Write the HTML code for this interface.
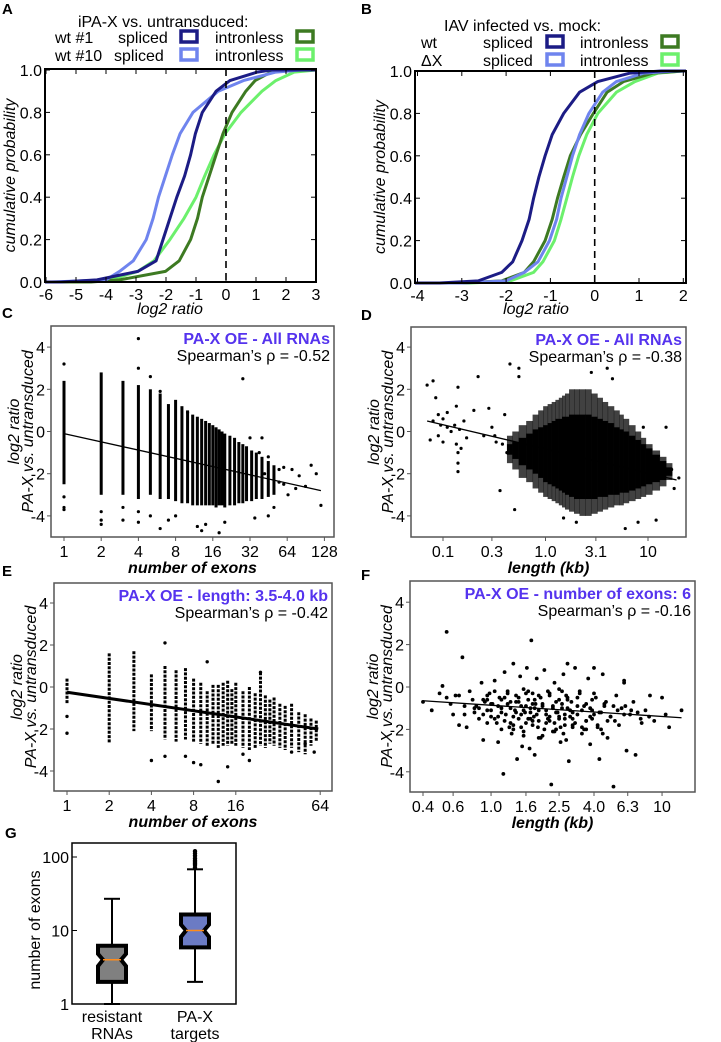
<!DOCTYPE html>
<html><head><meta charset="utf-8">
<style>
html,body{margin:0;padding:0;background:#fff;}
svg{display:block;font-family:"Liberation Sans",Arial,sans-serif;}
</style></head>
<body>
<svg id="fig" width="721" height="1042" viewBox="0 0 721 1042" xmlns="http://www.w3.org/2000/svg"></svg>
<script>
// ---------- DATA ----------
const cdfProbs = [0,0.01,0.05,0.1,0.2,0.3,0.4,0.5,0.6,0.7,0.8,0.9,0.95,0.99,1];
const aWt1Spliced   = [-5.5,-4.3,-2.94,-2.33,-2.1,-1.87,-1.64,-1.38,-1.18,-1.02,-0.79,-0.33,0.13,1.04,1.5];
const aWt10Spliced  = [-5.8,-4.0,-3.55,-3.09,-2.66,-2.43,-2.25,-2.02,-1.79,-1.53,-1.1,-0.26,0.58,1.66,2.5];
const aWt1Intronless= [-4.5,-3.55,-2.02,-1.56,-1.18,-0.95,-0.79,-0.56,-0.33,-0.1,0.2,0.66,0.97,1.5,2.0];
const aWt10Intronless=[-4.8,-3.86,-2.94,-2.4,-1.87,-1.4,-1.0,-0.71,-0.4,-0.03,0.5,1.2,1.66,2.27,3.0];
const bWtSpliced    = [-3.5,-2.63,-2.1,-1.85,-1.64,-1.48,-1.38,-1.26,-1.12,-0.96,-0.7,-0.34,0.07,0.8,1.5];
const bDxSpliced    = [-3.0,-2.0,-1.59,-1.28,-1.02,-0.86,-0.76,-0.63,-0.5,-0.34,-0.13,0.18,0.49,1.11,1.8];
const bWtIntronless = [-3.0,-2.1,-1.59,-1.38,-1.12,-0.96,-0.84,-0.7,-0.55,-0.32,-0.03,0.28,0.65,1.32,2.0];
const bDxIntronless = [-2.8,-1.9,-1.38,-1.17,-0.91,-0.76,-0.63,-0.5,-0.36,-0.18,0.07,0.49,0.91,1.43,2.0];
const aXTicks = [-6,-5,-4,-3,-2,-1,0,1,2,3];
const bXTicks = [-4,-3,-2,-1,0,1,2];
const probTicks = [0,0.2,0.4,0.6,0.8,1.0];
const probTickLabels = ["0.0","0.2","0.4","0.6","0.8","1.0"];
const cN   = [1,2,3,4,5,6,7,8,9,10,11,12,13,14,15,16,17,18,19,20,22,24,26,28,30,33,36,40,45,50];
const cTop = [2.4,2.8,2.4,2.2,2.0,1.8,1.3,1.5,1.2,1.0,0.8,0.7,0.6,0.5,0.4,0.3,0.2,0.1,0.0,-0.1,-0.2,-0.3,-0.5,-0.6,-0.7,-0.9,-1.0,-1.2,-1.4,-1.6];
const cBot = [-2.5,-3.0,-3.0,-3.2,-3.0,-3.2,-3.2,-3.3,-3.4,-3.4,-3.5,-3.5,-3.5,-3.5,-3.5,-3.5,-3.6,-3.5,-3.5,-3.6,-3.5,-3.5,-3.4,-3.4,-3.3,-3.3,-3.2,-3.2,-3.1,-3.0];
const cOutN = [1,1,1,1,2,2,2,3,3,4,4,4,4,5,5,6,6,7,8,10,12,13,14,18,20,28,32,40,45,55,60,65,70,80,90,100,110,120,35,45,50,38,42,55,60,75];
const cOutV = [3.2,-3.1,-3.6,-3.7,-3.8,-4.2,-4.4,-3.6,-4.2,4.4,3.0,-3.8,-4.3,2.6,-4.0,1.9,-4.6,-4.2,-4.0,0.9,-4.5,-4.7,-4.4,-4.8,-4.3,2.5,-0.3,-0.3,-1.2,-1.8,-2.5,-3.0,-1.8,-2.1,-2.6,-1.6,-2.0,-3.5,-4.1,-4.0,-3.6,-1.0,-2.0,-2.4,-1.7,-2.7];
const cFit = [[1,-0.1],[120,-2.8]];
const cXTicks = [1,2,4,8,16,32,64,128];
const yTicks = [-4,-2,0,2,4];
const dLen = [0.45,0.5,0.6,0.7,0.8,0.9,1.0,1.1,1.2,1.3,1.4,1.5,1.6,1.8,2.0,2.3,2.6,3.0,3.4,3.8,4.3,5,5.5,6,7,8,9,10,12,14,16];
const dTop = [-0.2,0,0.3,0.5,0.8,1.0,1.2,1.3,1.4,1.5,1.6,1.7,1.8,2.0,2.0,2.0,2.0,1.8,1.6,1.4,1.2,1.0,0.8,0.6,0.3,0.0,-0.3,-0.6,-0.9,-1.2,-1.5];
const dBot = [-1.5,-1.8,-2.2,-2.4,-2.7,-2.9,-3.1,-3.2,-3.3,-3.4,-3.5,-3.6,-3.7,-3.8,-3.9,-4.0,-4.0,-3.9,-3.8,-3.7,-3.6,-3.5,-3.5,-3.4,-3.3,-3.2,-3.1,-3.0,-2.8,-2.6,-2.3];
const dCoreTop = [-0.6,-0.5,-0.3,-0.1,0.1,0.2,0.3,0.4,0.5,0.6,0.6,0.7,0.7,0.8,0.8,0.8,0.8,0.7,0.6,0.5,0.4,0.2,0.1,0.0,-0.2,-0.4,-0.6,-0.8,-1.1,-1.4,-1.7];
const dCoreBot = [-1.1,-1.3,-1.6,-1.8,-2.0,-2.2,-2.4,-2.5,-2.6,-2.7,-2.8,-2.9,-3.0,-3.1,-3.2,-3.2,-3.2,-3.2,-3.1,-3.1,-3.0,-3.0,-2.9,-2.9,-2.8,-2.7,-2.6,-2.5,-2.4,-2.3,-2.1];
const dPtL = [0.07,0.075,0.08,0.08,0.085,0.09,0.09,0.095,0.1,0.1,0.11,0.11,0.12,0.13,0.135,0.135,0.14,0.14,0.14,0.14,0.145,0.15,0.16,0.17,0.2,0.22,0.25,0.28,0.3,0.33,0.36,0.4,0.45,0.5,0.55,0.55,17,18,15,12,8,6,2,1.5,4,2.8,4.5,9,20,0.38,0.42,0.32];
const dPtV = [2.2,-0.4,2.4,0.5,1.6,-0.2,0.8,0.3,0.6,-0.5,0.9,0.2,0.0,0.3,1.2,-0.6,2.1,-1.0,-1.5,-1.9,0.1,-0.8,0.5,-0.3,1.0,2.6,-0.2,1.1,0.2,-0.5,-2.8,0.8,3.2,-3.7,3.0,2.6,-1.8,-2.7,0.2,-4.2,-4.3,-4.6,-4.3,-4.1,3.0,2.8,2.5,0.2,-2.2,-0.6,-1.0,-0.2];
const dFit = [[0.07,0.5],[19,-2.3]];
const dXTicks = [0.1,0.3,1.0,3.1,10];
const dXTickLabels = ["0.1","0.3","1.0","3.1","10"];
const eN   = [1,2,3,4,5,6,7,8,9,10,11,12,13,14,15,16,18,20,22,24,26,28,30,33,36,40,45,50,55,60];
const eTop = [0.4,1.6,1.7,0.6,1.0,0.8,0.9,0.4,0.2,-0.2,0.1,0.1,0.2,0.3,-0.1,0.2,-0.2,0.0,-0.3,0.7,-0.4,-0.6,-0.5,-0.8,-0.9,-0.8,-1.2,-1.3,-1.5,-1.6];
const eBot = [-0.8,-2.7,-2.1,-2.1,-2.5,-2.6,-2.5,-2.6,-2.7,-2.8,-2.7,-2.9,-2.8,-2.8,-2.7,-2.8,-2.9,-3.0,-2.9,-2.8,-2.9,-2.7,-2.8,-2.9,-3.0,-2.9,-3.1,-3.2,-2.8,-2.6];
const eOutN = [1,1,4,5,5,7,8,9,10,12,14,18,20,24,40,50,58];
const eOutV = [-1.4,-2.2,-3.5,-3.3,2.1,-3.3,-3.6,-3.7,1.2,-4.5,-3.8,-3.2,-3.5,0.7,-3.1,-2.7,-3.1];
const eFit = [[1,-0.25],[62,-2.0]];
const eXTicks = [1,2,4,8,16,64];
const fLen = [0.4,0.45,0.5,0.52,0.55,0.55,0.58,0.6,0.62,0.65,0.68,0.7,0.72,0.75,0.78,0.8,0.82,0.85,0.88,0.9,0.92,0.95,0.98,1.0,1.02,1.05,1.08,1.1,1.12,1.15,1.18,1.2,1.22,1.25,1.28,1.3,1.32,1.35,1.38,1.4,1.42,1.45,1.48,1.5,1.52,1.55,1.58,1.6,1.62,1.65,1.68,1.7,1.72,1.75,1.78,1.8,1.82,1.85,1.88,1.9,1.95,2.0,2.05,2.1,2.15,2.2,2.25,2.3,2.35,2.4,2.45,2.5,2.55,2.6,2.65,2.7,2.75,2.8,2.85,2.9,2.95,3.0,3.1,3.2,3.3,3.4,3.5,3.6,3.7,3.8,3.9,4.0,4.1,4.2,4.3,4.4,4.5,4.6,4.8,5.0,5.2,5.4,5.6,5.8,6.0,6.2,6.5,6.8,7.0,7.5,8.0,8.5,9.0,10,10.5,11,13,
 0.85,0.9,0.95,1.0,1.05,1.1,1.15,1.2,1.25,1.3,1.35,1.4,1.45,1.5,1.55,1.6,1.65,1.7,1.75,1.8,1.85,1.9,2.0,2.1,2.2,2.3,2.4,2.5,2.6,2.7,2.8,2.9,3.0,3.2,3.4,3.6,3.8,4.0,4.3,4.6,5.0,5.5,6.0,0.95,1.05,1.15,1.25,1.35,1.45,1.55,1.65,1.75,1.9,2.05,2.2,2.35,2.5,2.65,2.8,3.0,3.3,3.6,3.9,4.2,4.7,5.3,6.1,7.2,
 0.9,1.0,1.1,1.2,1.3,1.4,1.5,1.6,1.7,1.8,1.9,2.0,2.1,2.2,2.3,2.4,2.5,2.6,2.7,2.8,3.0,3.2,3.4,3.6,3.8,4.0,4.4,4.8,5.2,0.95,1.15,1.35,1.55,1.75,1.95,2.15,2.35,2.55,2.75,3.1,3.5,3.9,4.5,0.8,0.7,0.65,6.0,6.6,7.6,8.4];
const fVal = [-0.7,-1.1,-0.3,0.05,2.6,-0.5,-0.8,-1.3,-0.4,-1.8,1.4,-0.9,-1.9,-0.2,-0.6,-1.2,-0.9,-1.5,0.2,-2.5,-0.7,-1.1,-0.3,-1.4,-0.8,0.3,-1.7,-2.6,-0.5,-1.0,-4.1,0.7,-1.3,-0.2,-1.9,-0.7,-2.2,1.1,-1.1,-0.4,-3.4,-1.5,0.5,-0.9,-2.8,-0.1,-1.2,-1.7,0.9,-0.6,-2.9,-1.0,2.2,-0.3,-1.4,-3.2,-0.8,0.4,-1.9,-1.1,-0.5,-2.3,0.8,-1.3,-0.2,-1.6,-4.6,-0.9,0.2,-2.0,-1.2,-0.6,-2.6,-1.0,0.6,-1.5,-0.4,1.1,-3.5,-1.1,-0.7,-1.8,0.9,-1.3,-0.2,-2.2,-0.9,-1.6,0.4,-2.7,-1.1,0.9,-0.5,-1.9,-3.4,-1.2,0.6,-0.8,-2.4,-1.4,-4.7,-0.4,-1.8,-1.0,0.3,-3.0,-1.3,-0.7,-3.2,-1.5,-1.1,-0.4,-1.6,-0.5,-1.3,-1.9,-1.1,
 -1.0,-1.3,-0.6,-1.1,-1.5,-0.9,-1.2,-1.6,-0.8,-1.0,-1.4,-1.2,-0.7,-1.3,-1.1,-0.9,-1.5,-1.2,-0.8,-1.0,-1.3,-1.6,-0.9,-1.1,-1.4,-1.0,-1.2,-1.5,-0.8,-1.3,-1.0,-1.4,-1.2,-0.9,-1.1,-1.6,-1.0,-1.3,-1.2,-0.9,-1.4,-1.1,-1.3,-0.4,-0.2,-0.6,-0.3,-2.0,-0.5,-2.1,-0.2,-1.8,-0.4,-2.0,-0.3,-1.7,-0.1,-2.2,-0.5,-1.9,-0.3,-2.0,-0.6,-1.8,-0.7,-1.6,-0.9,-1.2,
 -0.6,-0.8,-1.4,-0.5,-1.7,-0.7,-1.9,-0.3,-1.5,-0.6,-2.4,-0.8,-1.7,-0.4,-2.1,-0.7,-1.4,-0.2,-1.8,-0.6,-1.5,-0.5,-1.9,-0.8,-1.4,-0.3,-2.0,-1.6,-0.9,-1.7,-2.0,-1.8,-2.3,-1.6,-2.4,-1.5,-2.1,-1.9,-2.5,-1.7,-2.0,-1.5,-2.2,-1.0,-1.3,-0.4,0.2,-1.1,-1.7,-1.4];
const fFit = [[0.4,-0.65],[13,-1.45]];
const fXTicks = [0.4,0.6,1.0,1.6,2.5,4.0,6.3,10];
const fXTickLabels = ["0.4","0.6","1.0","1.6","2.5","4.0","6.3","10"];
const gCategories = ["resistant RNAs","PA-X targets"];
const gResistant = [1,2,4,6.2,27];
const gTargets = [2,5.9,10,16.5,68];
const gTargetOutliers = [72,78,82,86,90,96,104,112,120];
const gYTicks = [1,10,100];

// ---------- RENDER ----------
const NS="http://www.w3.org/2000/svg";
const svg=document.getElementById('fig');
function el(tag,attrs,parent){const e=document.createElementNS(NS,tag);for(const k in attrs)e.setAttribute(k,attrs[k]);(parent||svg).appendChild(e);return e;}
function txt(s,x,y,o,parent){const t=el('text',Object.assign({x:x,y:y,'font-size':16,fill:'#000'},o||{}),parent);t.textContent=s;return t;}
const L2=Math.log2, L10=Math.log10;

const ax=v=>46+(v+6)*30, ay=p=>282-p*212;
const bx=v=>417.5+(v+4)*44.3, by=p=>283-p*212;
const cx=n=>64+37.2*L2(n), cy=v=>431.5-21.1*v;
const dx=l=>443+102.5*L10(l/0.1), dy=cy;
const ex=n=>67+42.2*L2(n), ey=v=>687-21*v;
const fx=l=>423+171*L10(l/0.4), fy=v=>687-21.2*v;
const gy=n=>1004-73.5*L10(n);

[["A",2,14],["B",361,14],["C",2,318],["D",361,320],["E",2,576],["F",361,580],["G",5,838]].forEach(a=>{
  const t=txt(a[0],a[1],a[2],{'font-weight':'bold','font-size':15});
  
  
});

function cdfPanel(id,X,Y,x0,x1,y0,y1,xticks,series,zeroX,xlabelX){
  const g=el('g',{});
  
  
  series.forEach(s=>{
    let pts=[[x0,Y(0)]];
    for(let i=0;i<cdfProbs.length;i++){pts.push([X(s.q[i]),Y(cdfProbs[i])]);}
    pts.push([x1,Y(1)]);
    const p=el('polyline',{points:pts.map(p=>p[0].toFixed(1)+','+p[1].toFixed(1)).join(' '),fill:'none',stroke:s.c,'stroke-width':3,'stroke-linejoin':'round'},g);
    
    
  });
  const dl=el('line',{x1:X(0),x2:X(0),y1:y0,y2:y1,stroke:'#000','stroke-width':1.6,'stroke-dasharray':'7,5'},g);
  
  
  const fr=el('rect',{x:x0,y:y0,width:x1-x0,height:y1-y0,fill:'none',stroke:'#000','stroke-width':2},g);
  
  
  xticks.forEach(v=>{
    el('line',{x1:X(v),x2:X(v),y1:y1,y2:y1-5,stroke:'#000','stroke-width':1},g);
    el('line',{x1:X(v),x2:X(v),y1:y0,y2:y0+5,stroke:'#000','stroke-width':1},g);
    const t=txt(String(v),X(v),y1+18,{'text-anchor':'middle'},g);
    
    
  });
  probTicks.forEach((p,i)=>{
    el('line',{x1:x0,x2:x0+5,y1:Y(p),y2:Y(p),stroke:'#000','stroke-width':1},g);
    el('line',{x1:x1,x2:x1-5,y1:Y(p),y2:Y(p),stroke:'#000','stroke-width':1},g);
    const t=txt(probTickLabels[i],x0-3,Y(p)+6,{'text-anchor':'end'},g);
    
    
  });
  const xl=txt('log2 ratio',xlabelX,314,{'text-anchor':'middle','font-style':'italic'},g);
  
  
  const yc=(y0+y1)/2, yx=x0-30;
  const yl=txt('cumulative probability',yx,yc,{'text-anchor':'middle','font-style':'italic',transform:'rotate(-90 '+yx+' '+yc+')'},g);
  
  
}
const cDB='#1c1c85', cLB='#6f84ee', cDG='#3d7a22', cLG='#6cf06c';
cdfPanel('a',ax,ay,45,316,69,282,aXTicks,[
  {n:'wt10-intronless',q:aWt10Intronless,c:cLG},{n:'wt1-intronless',q:aWt1Intronless,c:cDG},
  {n:'wt10-spliced',q:aWt10Spliced,c:cLB},{n:'wt1-spliced',q:aWt1Spliced,c:cDB}],0,170);
cdfPanel('b',bx,by,415,686,71,283,bXTicks,[
  {n:'dx-intronless',q:bDxIntronless,c:cLG},{n:'wt-intronless',q:bWtIntronless,c:cDG},
  {n:'dx-spliced',q:bDxSpliced,c:cLB},{n:'wt-spliced',q:bWtSpliced,c:cDB}],0,536);

function legend(id,title,tx,ty,rows){
  const g=el('g',{});
  
  
  const t=txt(title,tx,ty,{},g);
  
  
  rows.forEach(r=>{
    const a=txt(r.lab,r.lx,r.y,{},g);
    
    
    const b=txt('spliced',r.sx,r.y,{},g);
    
    
    const s1=el('rect',{x:r.q1,y:r.y-12,width:16,height:11,fill:'none',stroke:r.c1,'stroke-width':3.5},g);
    
    
    const c=txt('intronless',r.ix,r.y,{},g);
    
    
    const s2=el('rect',{x:r.q2,y:r.y-12,width:16,height:11,fill:'none',stroke:r.c2,'stroke-width':3.5},g);
    
    
  });
}
legend('a','iPA-X vs. untransduced:',78,27,[
  {lab:'wt #1',lx:55,sx:118,q1:181,ix:215,q2:297,y:43,c1:cDB,c2:cDG},
  {lab:'wt #10',lx:55,sx:114,q1:181,ix:215,q2:297,y:61,c1:cLB,c2:cLG}]);
legend('b','IAV infected vs. mock:',444,31,[
  {lab:'wt',lx:421,sx:483,q1:547,ix:580,q2:662,y:48,c1:cDB,c2:cDG},
  {lab:'\u0394X',lx:421,sx:483,q1:547,ix:580,q2:662,y:66,c1:cLB,c2:cLG}]);

function scatterFrame(id,x0,x1,y0,y1,Y,xt,xtl,X,xtitle,title,rho){
  const g=el('g',{});
  
  
  const fr=el('rect',{x:x0,y:y0,width:x1-x0,height:y1-y0,fill:'none',stroke:'#555','stroke-width':1.5},g);
  
  
  yTicks.forEach(v=>{
    el('line',{x1:x0-4,x2:x0,y1:Y(v),y2:Y(v),stroke:'#555'},g);
    const t=txt(String(v),x0-6,Y(v)+6,{'text-anchor':'end'},g);
    
    
  });
  xt.forEach((v,i)=>{
    el('line',{x1:X(v),x2:X(v),y1:y1,y2:y1+4,stroke:'#555'},g);
    const t=txt(xtl[i],X(v),y1+20,{'text-anchor':'middle'},g);
    
    
  });
  const xl=txt(xtitle,(x0+x1)/2,y1+36,{'text-anchor':'middle','font-style':'italic','font-weight':'bold'},g);
  
  
  const yc=(y0+y1)/2;
  const l1=txt('log2 ratio',x0-32,yc,{'text-anchor':'middle','font-style':'italic',transform:'rotate(-90 '+(x0-32)+' '+yc+')'},g);
  
  
  const l2=txt('PA-X vs. untransduced',x0-18,yc,{'text-anchor':'middle','font-style':'italic',transform:'rotate(-90 '+(x0-18)+' '+yc+')'},g);
  
  
  const tt=txt(title,x1-4,y0+18,{'text-anchor':'end','font-weight':'bold',fill:'#5533ee'},g);
  
  
  const rt=txt("Spearman\u2019s \u03c1 = "+rho,x1-4,y0+35,{'text-anchor':'end'},g);
  
  
}
function dot(X,Y,a,b,r,name,g){const c=el('circle',{cx:X(a),cy:Y(b),r:r,fill:'#000'},g);}
function fit(X,Y,f,w,name){const l=el('line',{x1:X(f[0][0]),y1:Y(f[0][1]),x2:X(f[1][0]),y2:Y(f[1][1]),stroke:'#000','stroke-width':w});}

// Panel C
scatterFrame('c',51,334,326,537,cy,cXTicks,cXTicks.map(String),cx,'number of exons','PA-X OE - All RNAs','-0.52');
const gc=el('g',{});
cN.forEach((n,i)=>{
  const w=i<cN.length-1?Math.min(3,cx(cN[i+1])-cx(n)+0.5):3;
  const r=el('rect',{x:cx(n)-w/2,y:cy(cTop[i]),width:Math.max(w,2.5),height:cy(cBot[i])-cy(cTop[i]),fill:'#000'},gc);
  
  
});
cOutN.forEach((n,i)=>dot(cx,cy,n,cOutV[i],1.6,'c-point',gc));
fit(cx,cy,cFit,1.3,'c-fit-line');

// Panel D
scatterFrame('d',411,686,327,537,dy,dXTicks,dXTickLabels,dx,'length (kb)','PA-X OE - All RNAs','-0.38');
const gd=el('g',{});
dLen.forEach((l,i)=>{
  const xa=i>0?(dx(dLen[i-1])+dx(l))/2:dx(l)-3, xb=i<dLen.length-1?(dx(l)+dx(dLen[i+1]))/2:dx(l)+3;
  const r=el('rect',{x:xa,y:dy(dTop[i]),width:xb-xa+0.5,height:dy(dBot[i])-dy(dTop[i]),fill:'#111',opacity:0.8},gd);
  
  
  const c=el('rect',{x:xa,y:dy(dCoreTop[i]),width:xb-xa+0.5,height:dy(dCoreBot[i])-dy(dCoreTop[i]),fill:'#000'},gd);
  
  
});
dPtL.forEach((l,i)=>dot(dx,dy,l,dPtV[i],1.6,'d-point',gd));
fit(dx,dy,dFit,1.3,'d-fit-line');

// Panel E
scatterFrame('e',54,332,583,791,ey,eXTicks,eXTicks.map(String),ex,'number of exons','PA-X OE - length: 3.5-4.0 kb','-0.42');
const ge=el('g',{});
eN.forEach((n,i)=>{
  const l=el('line',{x1:ex(n),x2:ex(n),y1:ey(eTop[i]),y2:ey(eBot[i]),stroke:'#000','stroke-width':3,'stroke-dasharray':'3,1.3'},ge);
  
  
});
eOutN.forEach((n,i)=>dot(ex,ey,n,eOutV[i],1.7,'e-point',ge));
fit(ex,ey,eFit,3,'e-fit-line');

// Panel F
scatterFrame('f',410,695,581,792,fy,fXTicks,fXTickLabels,fx,'length (kb)','PA-X OE - number of exons: 6','-0.16');
const gf=el('g',{});
fLen.forEach((l,i)=>dot(fx,fy,l,fVal[i],1.9,'f-point',gf));
fit(fx,fy,fFit,1.3,'f-fit-line');

// Panel G
const gg=el('g',{});
const gfr=el('rect',{x:72,y:843,width:164,height:161,fill:'none',stroke:'#000','stroke-width':1.5},gg);


gYTicks.forEach(v=>{
  el('line',{x1:72,x2:77,y1:gy(v),y2:gy(v),stroke:'#000'},gg);
  const t=txt(String(v),69,gy(v)+6,{'text-anchor':'end'},gg);
  
  
});
const gyc=930;
const gyl=txt('number of exons',40,gyc,{'text-anchor':'middle',transform:'rotate(-90 40 '+gyc+')'},gg);


function gbox(cxp,st,fill,name){
  const n=5,hw=14;
  const q1=gy(st[1]),q3=gy(st[3]),md=gy(st[2]);
  const nl=gy(st[2]*0.82),nh=gy(st[2]*1.2);
  el('line',{x1:cxp,x2:cxp,y1:gy(st[0]),y2:q1,stroke:'#000','stroke-width':2},gg);
  el('line',{x1:cxp,x2:cxp,y1:q3,y2:gy(st[4]),stroke:'#000','stroke-width':2},gg);
  el('line',{x1:cxp-8,x2:cxp+8,y1:gy(st[0]),y2:gy(st[0]),stroke:'#000','stroke-width':2},gg);
  el('line',{x1:cxp-8,x2:cxp+8,y1:gy(st[4]),y2:gy(st[4]),stroke:'#000','stroke-width':2},gg);
  const pts=[[cxp-hw,q3],[cxp+hw,q3],[cxp+hw,nh],[cxp+hw-n,md],[cxp+hw,nl],[cxp+hw,q1],[cxp-hw,q1],[cxp-hw,nl],[cxp-hw+n,md],[cxp-hw,nh]];
  const p=el('polygon',{points:pts.map(a=>a.join(',')).join(' '),fill:fill,stroke:'#000','stroke-width':4},gg);
  
  
  const m=el('line',{x1:cxp-hw+n,x2:cxp+hw-n,y1:md,y2:md,stroke:'#ff8c1a','stroke-width':1.5},gg);
  
  
}
gbox(112,gResistant,'#808080','g-box-resistant');
gbox(195,gTargets,'#6b7bc4','g-box-targets');
gTargetOutliers.forEach(v=>{const c=el('circle',{cx:195,cy:gy(v),r:2.2,fill:'#000'},gg);});
[[112,'resistant','RNAs'],[195,'PA-X','targets']].forEach(a=>{
  const t1=txt(a[1],a[0],1022,{'text-anchor':'middle'},gg);
  
  
  const t2=txt(a[2],a[0],1039,{'text-anchor':'middle'},gg);
  
  
});
</script>
</body></html>
